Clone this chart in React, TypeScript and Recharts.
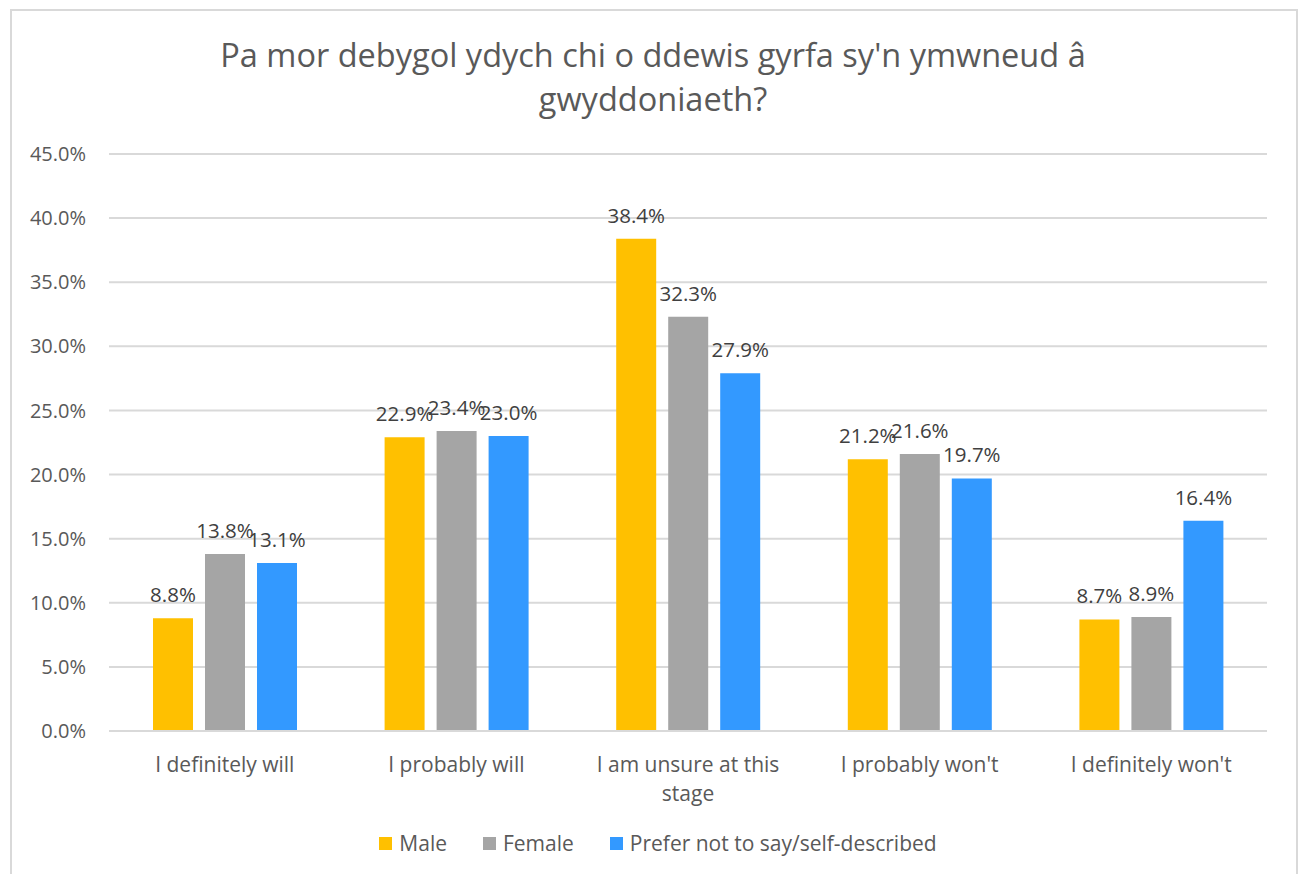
import { Bar, BarChart, CartesianGrid, LabelList, XAxis, YAxis } from "recharts";

const categories = [
  "I definitely will",
  "I probably will",
  "I am unsure at this stage",
  "I probably won't",
  "I definitely won't",
];
const male = [8.8, 22.9, 38.4, 21.2, 8.7];
const female = [13.8, 23.4, 32.3, 21.6, 8.9];
const other = [13.1, 23.0, 27.9, 19.7, 16.4];
const yTicks = [0, 5, 10, 15, 20, 25, 30, 35, 40, 45];

const seriesList = [
  { key: "male", name: "Male", color: "#FFC000" },
  { key: "female", name: "Female", color: "#A5A5A5" },
  { key: "other", name: "Prefer not to say/self-described", color: "#3399FF" },
];

const data = categories.map((c, i) => ({
  cat: c,
  male: male[i],
  female: female[i],
  other: other[i],
}));

const FONT = "'Open Sans', sans-serif";
const fmt = (v: number) => `${v.toFixed(1)}%`;

// wrap by character count, good enough for these short labels
function wrap(s: string, max = 20) {
  const lines: string[] = [];
  let cur = "";
  for (const w of s.split(" ")) {
    const next = cur ? cur + " " + w : w;
    if (next.length > max && cur) {
      lines.push(cur);
      cur = w;
    } else cur = next;
  }
  if (cur) lines.push(cur);
  return lines;
}

function CatTick(props: any) {
  const { x, y, payload } = props;
  return (
    <text x={x} y={y} textAnchor="middle" fill="#595959" fontSize={21} fontFamily={FONT}>
      {wrap(payload.value).map((ln, i) => (
        <tspan key={i} x={x} dy={i === 0 ? 15 : 29}>
          {ln}
        </tspan>
      ))}
    </text>
  );
}

export default function App() {
  return (
    <div style={{ position: "absolute", left: 0, top: 0, width: 1300, height: 874, background: "#fff", fontFamily: FONT }}>
      <div
        style={{
          position: "absolute",
          left: 10,
          top: 9,
          width: 1284,
          height: 880,
          border: "2px solid #d9d9d9",
        }}
      />
      <div
        style={{
          position: "absolute",
          left: 0,
          top: 33,
          width: 1306,
          textAlign: "center",
          color: "#595959",
          fontSize: 32.5,
          lineHeight: "44px",
        }}
      >
        Pa mor debygol ydych chi o ddewis gyrfa sy'n ymwneud â<br />gwyddoniaeth?
      </div>
      <div style={{ position: "absolute", left: 0, top: 0 }}>
        <BarChart
          width={1300}
          height={874}
          data={data}
          margin={{ top: 154, right: 33, bottom: 113, left: 0 }}
          barGap={12}
          barSize={40}
        >
          <CartesianGrid vertical={false} stroke="#d9d9d9" strokeWidth={2} />
          <XAxis
            dataKey="cat"
            axisLine={{ stroke: "#d9d9d9", strokeWidth: 2 }}
            tickLine={false}
            tickSize={0}
            tickMargin={26}
            interval={0}
            tick={<CatTick />}
          />
          <YAxis
            width={109}
            domain={[0, 45]}
            ticks={yTicks}
            tickFormatter={fmt}
            axisLine={false}
            tickLine={false}
            tickSize={0}
            tickMargin={23}
            tick={{ fill: "#595959", fontSize: 20, fontFamily: FONT }}
          />
          {seriesList.map((s) => (
            <Bar key={s.key} dataKey={s.key} name={s.name} fill={s.color} isAnimationActive={false}>
              <LabelList
                dataKey={s.key}
                position="top"
                offset={16}
                formatter={(v: any) => fmt(Number(v))}
                fill="#404040"
                fontSize={20.5}
                fontFamily={FONT}
              />
            </Bar>
          ))}
        </BarChart>
      </div>
      <div
        style={{
          position: "absolute",
          left: 0,
          top: 829,
          width: 1316,
          display: "flex",
          justifyContent: "center",
          gap: 36,
          color: "#595959",
          fontSize: 21,
        }}
      >
        {seriesList.map((s) => (
          <div key={s.key} style={{ display: "flex", alignItems: "center", gap: 7 }}>
            <div style={{ width: 13, height: 13, background: s.color }} />
            <span>{s.name}</span>
          </div>
        ))}
      </div>
    </div>
  );
}
